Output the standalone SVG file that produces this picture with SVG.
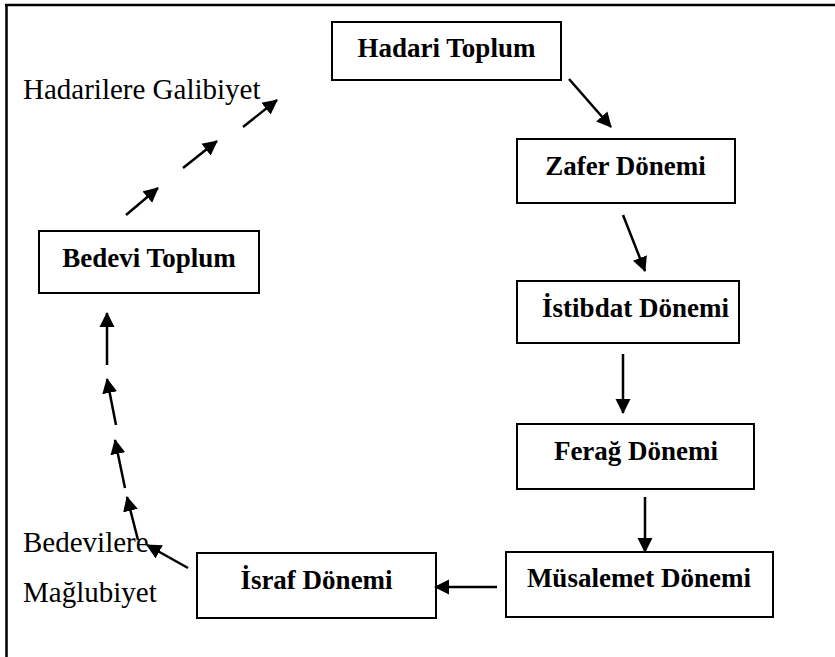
<svg xmlns="http://www.w3.org/2000/svg" width="835" height="657" viewBox="0 0 835 657">
<style>
.box{fill:#fff;stroke:#000;stroke-width:2}
.bt{font-family:"Liberation Serif","Times New Roman",serif;font-weight:bold;font-size:27px;fill:#000;text-anchor:middle}
.lt{font-family:"Liberation Serif","Times New Roman",serif;font-size:29px;fill:#000}
.ar{stroke:#000;stroke-width:2.5;fill:none;marker-end:url(#ah)}
.fr{stroke:#000;stroke-width:2.5;fill:none}
</style>
<defs>
<marker id="ah" markerUnits="userSpaceOnUse" markerWidth="16" markerHeight="16" refX="14" refY="8" orient="auto" viewBox="0 0 16 16">
<path d="M0,0.5 L15,8 L0,15.5 z" fill="#000"/>
</marker>
</defs>
<rect width="835" height="657" fill="#fff"/>
<g id="frame">
<path class="fr" d="M5,5 H835 M6.5,4 V657"/>
</g>
<g id="hadari"><rect class="box" x="332" y="22" width="229" height="58"/><text class="bt" x="446.5" y="57">Hadari Toplum</text></g>
<g id="zafer"><rect class="box" x="517" y="139" width="218" height="64"/><text class="bt" x="625.5" y="175">Zafer Dönemi</text></g>
<g id="istibdat"><rect class="box" x="517" y="281" width="222" height="62"/><text class="bt" x="635.5" y="317">İstibdat Dönemi</text></g>
<g id="ferag"><rect class="box" x="517" y="424" width="237" height="65"/><text class="bt" x="636" y="460">Ferağ Dönemi</text></g>
<g id="musalemet"><rect class="box" x="506" y="552" width="267" height="65"/><text class="bt" x="639" y="587">Müsalemet Dönemi</text></g>
<g id="israf"><rect class="box" x="197" y="553" width="239" height="65"/><text class="bt" x="316.5" y="589">İsraf Dönemi</text></g>
<g id="bedevi"><rect class="box" x="39" y="231" width="220" height="62"/><text class="bt" x="149" y="267">Bedevi Toplum</text></g>
<g id="labels">
<text class="lt" x="23" y="99">Hadarilere Galibiyet</text>
<text class="lt" x="23" y="552">Bedevilere</text>
<text class="lt" x="23" y="602">Mağlubiyet</text>
</g>
<g id="connectors">
<line class="ar" x1="569" y1="79" x2="611" y2="127"/>
<line class="ar" x1="623" y1="215" x2="645" y2="271"/>
<line class="ar" x1="623" y1="354" x2="623" y2="413"/>
<line class="ar" x1="645" y1="497" x2="645" y2="552"/>
<line class="ar" x1="497" y1="587" x2="435" y2="587"/>
<line class="ar" x1="188" y1="568" x2="147" y2="545"/>
<line class="ar" x1="138" y1="540" x2="127" y2="497"/>
<line class="ar" x1="125" y1="488" x2="115" y2="440"/>
<line class="ar" x1="116" y1="425" x2="107" y2="379"/>
<line class="ar" x1="107" y1="365" x2="107" y2="313"/>
<line class="ar" x1="126" y1="215" x2="158" y2="188"/>
<line class="ar" x1="183" y1="168" x2="217" y2="141"/>
<line class="ar" x1="243" y1="127" x2="277" y2="100"/>
</g>
</svg>
